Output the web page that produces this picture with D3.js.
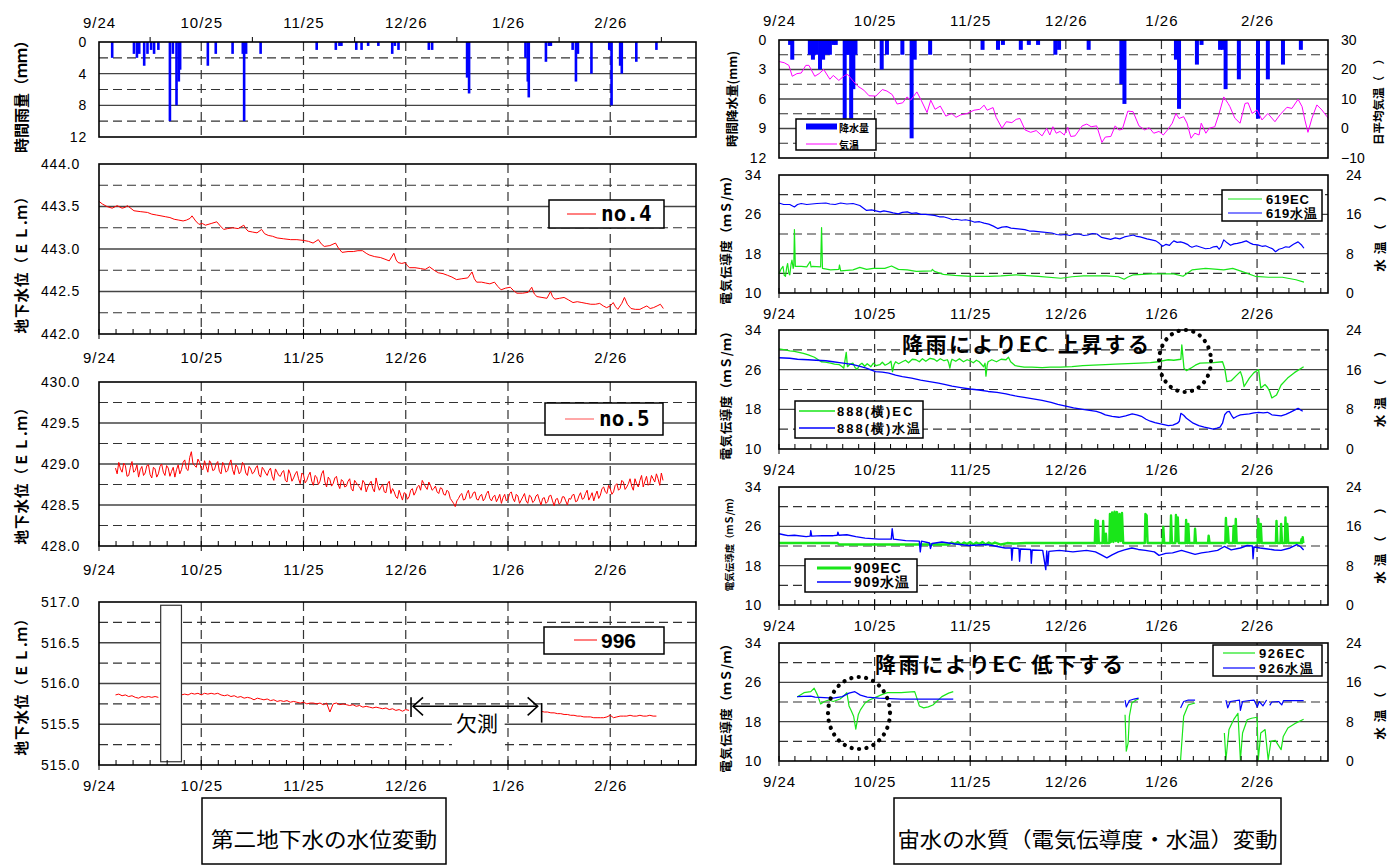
<!DOCTYPE html>
<html><head><meta charset="utf-8">
<script src="https://cdn.jsdelivr.net/npm/d3@7"></script>
<style>
body{margin:0;background:#fff;}
svg{display:block;}
</style></head><body>
<svg id="c" width="1400" height="865"></svg>
<script>
// ---------------- DATA ----------------
const DATE_TICKS = [0, 31, 62, 93, 124, 155];          // days after 9/24
const DATE_LABELS = ["9/24", "10/25", "11/25", "12/26", "1/26", "2/26"];

const RAIN_L_TICKS = [0, 4, 8, 12];
const RAIN_R_TICKS = [0, 3, 6, 9, 12];
const TEMP_AIR_TICKS = [30, 20, 10, 0, -10];
const EC_TICKS = [10, 18, 26, 34];
const WT_TICKS = [0, 8, 16, 24];
const NO4_TICKS = [442.0, 442.5, 443.0, 443.5, 444.0];
const NO5_TICKS = [428.0, 428.5, 429.0, 429.5, 430.0];
const S996_TICKS = [515.0, 515.5, 516.0, 516.5, 517.0];

// hourly rainfall (left) [day, mm]
const RAIN_L = [[4,2],[10.6,1.5],[11.5,2],[12.2,1.5],[13.7,3],[14.7,1.5],[15.8,1],[16.7,1.5],[18,1],[21.5,10],[22.4,1.5],[23.5,8],[24.2,5],[24.6,3.5],[33,3],[35.4,1.5],[40.5,1.5],[43.6,1.5],[44,10],[44.6,1.5],[49,1.5],[66,1],[71.8,1],[72.9,0.5],[73.5,0.5],[78,1],[79.6,1],[81.6,0.5],[84.7,0.5],[88.9,1.5],[89.7,0.5],[90.8,1],[100,1],[101,1],[111.6,4.5],[112.2,6.5],[129.3,2],[130,5],[130.3,7],[135.5,2.5],[136.4,0.5],[137,0.5],[143.6,1],[144.6,5],[145.2,1.5],[149.3,4],[154.7,1],[155.4,8],[158,3],[158.5,4],[162.9,2.5],[169,1]];

// hourly precipitation (right) [day, mm]
const RAIN_R = [[3.6,0.5],[4.3,2],[10,1.5],[11,2],[12,1.5],[13.3,3],[14.3,2],[15.5,1.5],[16.5,1.5],[17.6,0.5],[18.4,0.5],[21.3,8],[22,1.5],[22.6,1.5],[23.4,8],[24.1,5],[24.8,1.5],[33.3,3],[35,1.5],[40,1.5],[43,10],[44,2],[49,1.5],[66,1],[71,1],[72.6,0.5],[78.4,1],[81,0.5],[84,0.5],[89.6,1.5],[90.8,1],[100.4,1],[111,4.5],[112,6.5],[128.7,2],[129.7,7],[135.5,2.5],[137,0.5],[143,1],[144,1],[144.8,5],[149.1,4],[155.3,8],[158.5,4],[163.4,2.5],[169.2,1]];

// daily mean air temperature [day, degC]
const AIR_TEMP = [[0,22.7],[1.7,22.3],[3.2,21.4],[4.3,17.7],[5.8,18.6],[7.2,18.8],[8.7,21.4],[9.7,21.4],[11.6,17.7],[13,18.6],[14.5,20.0],[16.5,16.7],[17.6,18.0],[19.4,16.3],[21.3,18.0],[22.3,18.3],[24.1,16.0],[25.6,14.3],[27.5,13.0],[29.2,11.1],[31.4,11.0],[33.5,13.2],[35,12.7],[36.7,11.5],[38.3,8.3],[40.1,8.7],[41.5,10.7],[42.7,9.6],[44.7,12.4],[46.1,9.6],[48,5.4],[49.2,9.6],[50.6,6.5],[52.3,7.6],[54.1,4.2],[56,5.1],[57.4,3.8],[58.9,4.6],[61,5.1],[63.2,6.2],[65.1,6.5],[66.5,7.9],[67.5,6.2],[69.4,7.1],[70.4,3.8],[72.3,0.1],[73.7,2.3],[75.5,2.0],[76.9,3.1],[78.1,3.4],[79.8,-0.5],[81.6,-1.3],[83.4,-0.7],[85.3,-2.5],[86.8,0.1],[87.8,-2.2],[88.8,0.6],[89.9,-1.6],[91.1,-1.0],[92.5,-2.2],[93.6,0.4],[94.6,-2.7],[96,-2.5],[98.3,0.9],[99.8,1.5],[101.2,0.6],[103,0.9],[104.7,-4.7],[105.8,-2.9],[107.6,-2.7],[109,0.9],[110.2,-0.5],[111.3,-0.3],[113.1,5.9],[114.8,5.7],[116.7,0.9],[118.6,-0.5],[120,0.3],[121.5,-1.6],[123.2,-1.0],[124.6,-2.2],[126.1,-0.3],[127.5,1.8],[128.7,5.1],[129.7,3.4],[131.2,4.0],[132.3,1.8],[133.6,-3.3],[134.8,-1.6],[136.2,-2.2],[136.9,1.8],[138.4,-1.6],[139.5,0.1],[141.3,0.6],[142.7,5.1],[144.2,10.7],[145.6,8.5],[146.2,7.4],[147.8,3.5],[149.5,1.8],[151.1,8.5],[152.1,8.7],[153.4,5.1],[155,6.3],[156.6,2.9],[158.5,5.1],[160.8,2.3],[162.4,4.6],[164.7,7.2],[166.3,6.8],[168.3,9.9],[169.6,7.4],[170.5,2.9],[171.5,-1.3],[172.8,3.5],[174.4,8.0],[176,6.3],[177.7,4.0],[178,3.5]];

// groundwater level no.4 [day, EL.m]
const NO4 = [[0,443.56],[1,443.53],[2.4,443.50],[4,443.48],[5.5,443.51],[7,443.48],[7.9,443.49],[8.6,443.51],[10.6,443.45],[12.5,443.44],[14.7,443.43],[16,443.41],[17.4,443.40],[18.8,443.39],[20.1,443.38],[21.5,443.37],[22.8,443.35],[24.2,443.34],[25.5,443.33],[26.5,443.34],[27.6,443.36],[28.2,443.39],[29.3,443.33],[30.3,443.29],[31.3,443.30],[32.3,443.28],[34,443.30],[35.7,443.32],[36.8,443.27],[37.8,443.23],[39,443.24],[40.5,443.25],[42.2,443.24],[43.9,443.28],[44.5,443.24],[45.2,443.21],[46.5,443.20],[47.9,443.19],[49.3,443.23],[50.2,443.18],[51.3,443.16],[52.6,443.15],[54,443.13],[56,443.12],[58.1,443.11],[60,443.11],[62.2,443.10],[63.5,443.09],[64.9,443.07],[66.5,443.11],[67.4,443.06],[68.3,443.03],[70,443.04],[71.7,443.07],[72.6,443.01],[73.7,442.96],[75.5,442.97],[77.1,442.97],[78.5,442.98],[79.9,442.98],[81,442.95],[81.9,442.93],[83.6,442.91],[85.3,442.90],[86.7,442.88],[88,442.86],[89.4,442.95],[90.1,442.87],[90.7,442.84],[91.8,442.83],[92.8,442.84],[93.4,442.81],[94.1,442.78],[95.8,442.78],[97.5,442.77],[98.9,442.76],[100.2,442.79],[101.6,442.75],[102.9,442.72],[104.3,442.71],[105.7,442.69],[107,442.67],[108.4,442.64],[110,442.65],[111.8,442.66],[113.1,442.73],[113.8,442.65],[114.5,442.61],[116,442.61],[117.2,442.60],[118.5,442.59],[119.9,442.61],[120.9,442.56],[121.9,442.52],[123.3,442.54],[124.7,442.55],[125.7,442.51],[126.7,442.48],[128.4,442.48],[130.1,442.49],[131.2,442.55],[132,442.47],[132.8,442.44],[134.3,442.43],[135.8,442.42],[136.9,442.50],[137.5,442.44],[138.2,442.41],[139.6,442.42],[141,442.43],[142.4,442.40],[143.7,442.37],[145,442.38],[146.4,442.37],[147.7,442.36],[149.1,442.35],[150.5,442.35],[151.8,442.36],[152.9,442.33],[153.9,442.31],[155,442.33],[155.9,442.37],[156.6,442.32],[157.3,442.29],[158.5,442.36],[159.3,442.43],[160.2,442.35],[161.3,442.30],[162.6,442.29],[164,442.29],[165,442.31],[166.1,442.33],[167.1,442.30],[168.1,442.31],[169.2,442.33],[170.2,442.35],[171.1,442.30]];

// groundwater level no.5, readings at whole days from day 5
const NO5_START = 5;
const NO5 = [428.95,429.02,428.90,428.98,428.86,429.03,428.92,428.84,428.97,428.89,
428.99,428.83,428.94,428.88,429.00,428.86,428.95,428.91,428.84,428.99,
428.93,429.05,428.92,429.15,428.98,429.06,428.95,429.04,428.90,429.01,
428.93,429.03,428.88,428.98,428.92,429.05,428.87,428.96,428.91,428.99,
428.86,428.94,428.90,428.98,428.84,428.93,428.86,428.95,428.80,428.90,
428.85,428.92,428.78,428.88,428.83,428.91,428.76,428.87,428.80,428.90,
428.74,428.84,428.79,428.92,428.72,428.81,428.76,428.85,428.70,428.79,
428.73,428.82,428.67,428.77,428.72,428.80,428.66,428.76,428.70,428.83,
428.68,428.75,428.65,428.79,428.70,428.60,428.68,428.56,428.64,428.60,
428.70,428.66,428.74,428.80,428.72,428.78,428.68,428.73,428.64,428.70,
428.62,428.66,428.55,428.48,428.58,428.64,428.57,428.68,428.60,428.66,
428.56,428.63,428.58,428.67,428.55,428.62,428.58,428.52,428.63,428.57,
428.66,428.54,428.61,428.56,428.64,428.52,428.60,428.55,428.63,428.50,
428.59,428.54,428.62,428.49,428.58,428.53,428.60,428.50,428.57,428.63,
428.55,428.65,428.58,428.68,428.60,428.55,428.67,428.62,428.72,428.64,
428.70,428.66,428.76,428.70,428.78,428.72,428.82,428.68,428.76,428.80,
428.72,428.85,428.76,428.82,428.88,428.74,428.80];
// no.5 readings at half days from day 5.5
const NO5_MID_START = 5.5;
const NO5_MID = [428.88,428.94,429.01,428.85,428.96,428.90,428.99,428.93,428.86,428.98,
428.87,428.96,428.84,428.97,428.90,428.98,428.85,428.96,428.93,428.88,
429.02,428.94,429.08,429.00,428.96,429.02,428.93,428.97,429.04,428.92,
429.00,428.91,429.02,428.90,429.00,428.93,428.99,428.88,429.02,428.89,
428.97,428.88,428.95,428.87,428.96,428.89,428.92,428.85,428.94,428.86,
428.90,428.80,428.93,428.79,428.88,428.82,428.89,428.77,428.86,428.79,
428.86,428.75,428.88,428.78,428.84,428.73,428.83,428.75,428.81,428.72,
428.79,428.70,428.80,428.74,428.68,428.77,428.72,428.79,428.66,428.74,
428.72,428.66,428.76,428.64,428.66,428.58,428.62,428.65,428.57,428.68,
428.62,428.72,428.68,428.76,428.69,428.74,428.70,428.66,428.71,428.63,
428.68,428.58,428.52,428.55,428.62,428.56,428.64,428.58,428.65,428.57,
428.61,428.55,428.64,428.58,428.60,428.54,428.63,428.59,428.55,428.64,
428.58,428.63,428.52,428.60,428.55,428.62,428.53,428.61,428.56,428.58,
428.52,428.61,428.55,428.57,428.51,428.60,428.55,428.58,428.62,428.54,
428.61,428.57,428.64,428.56,428.65,428.62,428.58,428.70,428.66,428.74,
428.63,428.74,428.68,428.80,428.69,428.76,428.73,428.82,428.72,428.86,
428.79,428.74,428.86,428.78,428.82,428.89];

// groundwater level 996, daily values in three measured pieces
const S996_A_START = 5;
const S996_A = [515.86,515.87,515.85,515.86,515.84,515.85,515.83,515.82,515.84,515.83,515.84,515.83,515.84,515.83];
const S996_B_START = 25;
const S996_B = [515.86,515.87,515.86,515.88,515.87,515.88,515.86,515.88,515.87,515.88,
515.87,515.88,515.86,515.85,515.86,515.84,515.85,515.83,515.84,515.82,
515.83,515.82,515.80,515.82,515.81,515.80,515.81,515.79,515.80,515.78,
515.79,515.78,515.79,515.77,515.78,515.77,515.76,515.77,515.75,515.76,
515.76,515.75,515.76,515.74,515.76,515.65,515.75,515.76,515.74,515.75,
515.74,515.73,515.74,515.72,515.73,515.71,515.72,515.71,515.70,515.71,
515.70,515.69,515.70,515.68,515.69,515.67,515.68,515.66,515.68,515.67];
const S996_C_START = 134;
const S996_C = [515.66,515.65,515.65,515.64,515.64,515.63,515.63,515.62,515.62,515.61,515.61,515.60,515.60,515.59,515.59,515.59,515.58,515.58,515.58,515.58,515.59,515.61,515.58,515.59,515.60,515.60,515.60,515.61,515.60,515.60,515.61,515.60,515.60,515.61,515.60,515.60];

// 619: EC [day, mS/m], water temp [day, degC]
const EC619 = [[0,13.9],[0.6,14.8],[1.3,15.4],[1.7,13.6],[2.1,13.4],[2.5,15.2],[2.8,16.0],[3.2,14.0],[3.5,13.7],[3.9,15.8],[4.2,16.7],[4.6,15.0],[4.8,15.5],[5.0,22.9],[5.3,15.4],[7.2,15.4],[9,15.3],[10.1,16.4],[10.4,15.3],[10.8,15.4],[13.5,15.3],[13.8,23.3],[14.1,15.0],[16.7,14.7],[19.4,14.8],[19.6,15.7],[20.0,14.5],[24,14.7],[26.2,15.2],[28.4,14.8],[30.6,15.0],[34.3,15.0],[36.5,15.5],[38.7,14.8],[41.6,14.7],[44.5,14.4],[49.5,14.5],[49.7,14.8],[50.4,14.4],[53.3,13.8],[57,13.6],[62.1,13.4],[68,13.4],[72,13.5],[76.8,13.7],[84.1,13.4],[91.4,13.0],[95,13.3],[98.7,13.5],[106.1,13.5],[110,13.3],[111.9,12.8],[113,13.2],[114.9,13.7],[120.7,13.9],[128,13.9],[131,13.4],[133.9,14.7],[138.3,15.0],[144.2,14.7],[147.1,15.0],[150,14.4],[154.4,13.4],[158.8,13.2],[163.2,13.2],[167.6,12.7],[170.2,12.2]];
const WT619 = [[0,18.3],[1.5,18.0],[3.5,18.0],[5,17.5],[6,18.0],[7.2,18.2],[9,18.0],[12.3,18.2],[15.2,18.3],[16.5,18.1],[18.2,18.0],[20,18.3],[22,18.1],[24,18.2],[26.2,17.8],[28.4,16.8],[30,16.9],[31.4,16.7],[32.8,16.5],[34,16.7],[35.7,16.5],[37,16.3],[38.7,16.1],[40,16.4],[41.6,16.5],[43,16.2],[44.5,16.3],[46,16.0],[47.5,16.0],[49,15.9],[50.4,15.8],[52,15.5],[53.3,15.5],[55,15.2],[56.3,14.9],[57.5,15.0],[59.2,14.8],[60.5,14.9],[62.1,14.7],[63.5,14.4],[65,14.5],[66.5,14.2],[68,14.0],[69.5,13.6],[70.9,13.1],[72.3,13.4],[73.8,13.5],[75.2,13.2],[76.8,13.1],[78.3,13.0],[79.7,12.9],[81.2,12.6],[82.6,12.6],[84,12.5],[85.6,12.4],[87,12.3],[88.5,12.2],[90,11.9],[91.4,11.8],[92.8,11.9],[94.3,11.7],[95.8,12.0],[97.3,12.0],[98.8,11.7],[100.2,11.8],[101.6,12.1],[103.1,12.0],[104.6,11.3],[106,11.1],[107.5,10.9],[109,11.2],[110.5,11.0],[112,11.4],[113.4,11.6],[114.9,11.8],[116,11.5],[117.1,11.4],[118.2,11.2],[119.3,11.0],[120.8,10.8],[122.2,10.6],[123.3,10.1],[124.4,9.5],[125.5,9.9],[126.6,9.7],[127.3,10.2],[128,10.6],[129.1,10.3],[130.2,10.4],[131.3,10.2],[132.4,9.9],[133.2,9.5],[133.9,9.3],[135.3,9.6],[136.8,9.3],[138.3,9.0],[139.8,9.1],[140.9,9.4],[142,9.5],[142.7,8.9],[143.4,9.5],[144.2,10.8],[145.3,10.2],[146.4,9.7],[147.5,10.0],[148.6,10.1],[150,10.3],[151.5,10.6],[152.6,10.2],[153.7,9.9],[155.2,9.8],[156.6,9.5],[157.7,9.6],[158.8,9.3],[160,9.0],[161,8.4],[162.1,8.9],[163.2,9.1],[164.3,9.4],[165.4,9.3],[166.8,9.9],[168.3,10.4],[169.5,9.7],[170.2,9.1]];

// 888(横): EC and water temp
const EC888 = [[0,30.2],[2,30.0],[3.5,29.8],[5,29.7],[7.9,29.3],[9.5,29.0],[11.5,28.5],[13.7,27.6],[15,27.5],[16.7,27.3],[18,27.1],[19.6,27.0],[20.5,26.6],[21,26.3],[21.8,29.5],[22.2,26.6],[23,27.1],[24,27.3],[24.7,26.4],[25.4,26.1],[26.2,27.0],[26.9,27.3],[27.8,26.7],[28.6,27.2],[29.8,26.6],[30.6,27.3],[31.5,26.8],[32.7,27.0],[33.5,27.5],[34.4,26.9],[35.6,27.3],[36.3,27.7],[36.8,25.6],[37.3,27.0],[37.8,27.6],[38.8,27.2],[40,27.6],[41,27.9],[42,27.4],[43.2,28.1],[44.4,28.0],[45.5,27.6],[46.5,28.2],[47.6,27.7],[49,28.3],[50.3,28.1],[51.2,27.7],[52.3,28.2],[53.5,27.8],[54.6,28.0],[55,27.4],[55.4,26.3],[55.8,27.6],[56.1,28.1],[57.3,27.7],[58.5,28.2],[59.8,27.6],[61,28.0],[61.9,27.8],[63,27.4],[64,27.9],[64.9,27.6],[65.5,27.2],[66.3,26.6],[66.8,27.3],[67.1,24.7],[67.5,26.9],[67.8,27.6],[69,28.0],[70.5,27.6],[72,28.1],[73.6,28.0],[74.4,28.5],[75.1,27.6],[76.6,26.8],[79.5,26.5],[82,26.5],[85.3,26.4],[88,26.5],[91.2,26.5],[95,26.6],[98.5,26.8],[102,26.9],[105.8,27.0],[109,27.1],[113.1,27.2],[117,27.3],[120.4,27.4],[123,27.6],[126.2,28.0],[128,27.9],[130.3,28.1],[130.6,31.0],[131.3,26.3],[132.1,25.8],[133.5,26.3],[135,26.9],[136.5,27.3],[140.8,27.4],[143.8,27.6],[144.5,26.3],[145.2,23.6],[146.7,23.8],[148.1,24.7],[149.6,25.6],[150.2,24.5],[150.8,22.6],[152.5,24.3],[154,25.4],[155.5,26.0],[156.2,22.3],[157.6,23.0],[158.4,22.4],[159.1,21.6],[159.8,20.3],[161.3,20.9],[162.8,22.9],[164.9,24.3],[167.1,25.4],[170.1,26.6]];
const WT888 = [[0,18.4],[3.5,18.3],[6,18.1],[9.4,18.0],[12,17.9],[15.2,17.8],[17.5,17.6],[19.6,17.4],[22,17.2],[24,17.0],[26,16.7],[28.3,16.3],[30,15.9],[31.3,15.6],[33.5,15.5],[35.6,15.3],[37.8,14.9],[40,14.6],[43,14.3],[45.9,13.9],[48.8,13.6],[51.7,13.3],[54,13.0],[56.1,12.7],[59,12.4],[61.9,12.1],[64.8,11.9],[67.8,11.6],[70.7,11.4],[73.6,11.1],[75,10.9],[76.6,10.7],[79.5,10.4],[82.4,10.1],[85.3,9.8],[88.2,9.4],[90.4,9.0],[92.6,8.7],[95.5,8.3],[98.5,8.0],[100.7,7.8],[102.9,7.6],[104.4,7.3],[105.8,6.9],[108,6.6],[110.2,6.4],[112.4,6.7],[114.5,7.1],[116,6.9],[117.5,6.6],[119,6.0],[120.4,5.6],[121.9,5.3],[123.3,5.1],[124.8,4.9],[126.2,4.7],[127.7,4.8],[129.2,5.2],[129.8,5.6],[130.3,7.2],[131.2,6.8],[132.1,6.2],[133.2,5.7],[134.3,5.2],[136.1,4.7],[137.9,4.4],[139.4,4.2],[140.8,4.0],[142,4.2],[143,4.4],[143.8,5.2],[144.5,6.9],[145.3,7.5],[146,7.6],[146.7,6.8],[147.4,6.2],[148.5,6.6],[149.6,6.9],[151,7.0],[152.5,7.1],[154,7.3],[155.5,7.4],[157,7.3],[158.4,7.4],[159.8,6.9],[161.3,6.8],[162.8,6.7],[164.3,7.0],[165.7,7.4],[167,7.8],[168.3,8.2],[169.8,7.6]];

// 909: EC and water temp
const EC909 = [[0,22.6],[19,22.6],[19.5,22.3],[30,22.3],[40,22.3],[55,22.3],[56,22.7],[57,22.4],[58,22.8],[59,22.3],[60,22.7],[61,22.4],[62,22.8],[63,22.3],[64,22.7],[65,22.4],[66,22.8],[67,22.3],[68,22.7],[69,22.4],[70,22.7],[72,22.3],[74,22.6],[76,22.5],[80,22.6],[102.4,22.6],[102.6,27.3],[102.9,22.6],[103.2,22.6],[103.4,27.1],[103.7,22.6],[104.9,22.6],[105.1,27.1],[105.4,22.6],[105.8,22.6],[106,24.5],[106.2,22.6],[107.1,22.6],[107.3,28.5],[107.6,22.8],[108.0,28.8],[108.4,22.8],[108.8,29.0],[109.2,23.0],[109.6,28.9],[110,22.8],[110.4,28.5],[110.8,23.0],[111.2,28.7],[111.6,22.6],[118.6,22.6],[118.8,28.5],[119.2,28.2],[119.5,22.6],[124.4,22.6],[124.6,25.9],[124.9,22.6],[126.9,22.6],[127.1,28.2],[127.4,22.6],[128.5,22.6],[128.7,28.3],[129,23.0],[129.3,27.8],[129.6,22.6],[131.8,22.6],[132,27.3],[132.3,22.6],[132.5,22.6],[132.7,26.5],[133,22.6],[134.7,22.6],[134.9,25.5],[135.2,22.6],[139.1,22.6],[139.3,24.1],[139.6,22.6],[144.7,22.6],[144.9,27.7],[145.2,22.8],[145.5,25.8],[145.8,22.6],[147.2,22.6],[147.4,26.1],[147.7,22.6],[147.9,22.6],[148.1,27.5],[148.4,22.6],[155.2,22.6],[155.4,27.5],[155.8,22.6],[156.2,26.5],[156.5,22.6],[161.1,22.6],[161.3,27.1],[161.6,22.6],[162.6,22.6],[162.8,26.5],[163.1,22.6],[164,22.6],[164.2,27.8],[164.5,22.6],[164.8,26.5],[165.1,22.6],[169.2,22.6],[169.4,23.4],[169.6,22.6],[169.8,23.8],[170,22.6]];
const WT909 = [[0,14.5],[1.5,14.3],[2.9,14.1],[5,14.2],[8.8,13.9],[10.1,14.0],[10.3,15.1],[10.6,14.0],[14,14.1],[17.6,14.1],[18.9,14.2],[19.1,14.8],[19.4,14.2],[22,14.3],[24.9,13.9],[27.9,13.6],[32.3,13.4],[36.4,13.4],[36.7,15.5],[37.1,13.4],[41.1,13.1],[45.5,13.0],[45.8,10.8],[46.2,13.0],[48.8,12.6],[49.1,11.5],[49.6,12.5],[52.8,12.8],[57.2,12.4],[61.6,12.1],[67.5,12.3],[73.3,11.6],[75.3,11.6],[75.5,9.1],[75.8,11.6],[77.8,11.5],[78.0,8.9],[78.3,11.4],[81.6,11.3],[81.8,8.5],[82.1,11.2],[85.5,11.1],[86.5,7.2],[86.8,11.0],[87.2,8.1],[87.5,10.9],[90.9,11.1],[95.3,10.8],[99.7,11.1],[102.6,10.8],[104.5,10.2],[106.3,9.6],[108,10.2],[110,10.8],[112,11.2],[114.4,11.6],[116.5,11.3],[118.8,11.1],[121.7,10.8],[123.2,10.1],[125.4,10.5],[127.6,10.6],[130.5,11.1],[132.7,10.7],[134.9,10.3],[137,10.6],[139.3,10.8],[142.2,11.1],[144.4,11.9],[146.6,11.2],[149.6,11.6],[151.8,12.1],[153.5,12.0],[153.7,9.4],[154,11.8],[156,11.6],[158.4,11.4],[160.6,11.2],[162.8,11.1],[165.7,11.6],[167.9,12.3],[169.2,11.8],[170.1,11.2]];

// 926: EC and water temp (null = no data)
const EC926 = [[5.9,23.0],[8.1,23.9],[10.3,24.1],[11.4,24.8],[12.5,23.4],[13.5,21.6],[14.7,22.1],[16.1,22.4],[17.6,22.1],[19.8,22.6],[20.8,23.1],[22.0,23.9],[22.7,21.2],[23.5,20.1],[24.2,19.1],[24.9,16.5],[25.7,19.4],[26.4,20.4],[27.9,21.8],[29.3,22.4],[31.5,23.0],[33.7,23.6],[35.2,23.9],[39.6,23.9],[44.0,24.1],[44.7,22.8],[45.5,21.2],[46.9,20.8],[48.4,21.0],[49.9,21.4],[52.8,23.1],[55.0,23.8],[56.5,24.1],null,
[112.2,19.4],[112.6,12.0],[113.2,13.7],[113.6,19.1],[114.4,21.8],[115.8,22.4],[116.6,22.6],null,
[130.2,10.2],[131.2,19.1],[132.7,21.4],[134.9,21.8],null,
[144.4,15.7],[144.9,10.2],[145.9,16.4],[147.4,18.4],[148.8,19.7],[149.6,10.2],[150.3,15.7],[151.8,18.4],[153.2,18.7],[155.0,18.9],[155.4,10.2],[156.2,15.7],[157.6,16.4],[158.6,10.2],[159.5,14.0],[160.9,14.2],[162.8,12.3],[163.5,15.0],[165.0,16.7],[167.2,17.6],[170.1,18.5]];
const WT926 = [[5.9,13.1],[10.3,13.2],[11.7,13.0],[17.6,12.8],[20.5,13.1],[22.7,13.8],[24.6,14.1],[26.4,13.4],[28.6,13.0],[32.3,12.8],[39.6,12.6],[56.5,12.6],null,
[112.2,12.4],[112.6,11.0],[113.6,12.3],[115.1,12.6],[116.6,12.8],null,
[130.2,10.8],[131.2,12.1],[132.7,12.4],[134.9,12.4],null,
[144.9,12.4],[145.5,10.8],[146.3,12.1],[149.3,12.4],[149.6,10.3],[150.3,12.1],[152.5,12.3],[154.0,12.4],[155.1,11.0],[155.7,12.1],[156.9,11.2],[158.1,12.4],null,
[159.1,11.3],[159.8,12.0],[162,12.1],[163,11.4],[163.6,12.3],[170.1,12.3]];

// ---------------- DRAWING ----------------
const svg = d3.select('#c');
const LAT = '"Liberation Sans", Arial, sans-serif';
const JP = '"Noto Sans CJK JP", "Noto Sans CJK SC", sans-serif';
const RED = '#ff0000', BLUE = '#0000ff', GREEN = '#19e619', MAG = '#ff00ff';

const xL = d3.scaleLinear().domain([0, 181]).range([99, 696]);
const xR = d3.scaleLinear().domain([0, 178]).range([779, 1328]);

function base(xs, ys, solid, dashed) {
  const [x0, x1] = xs.range();
  const yt = d3.min(ys.range()), yb = d3.max(ys.range());
  const g = svg.append('g');
  g.append('rect').attr('x', x0).attr('y', yt).attr('width', x1 - x0).attr('height', yb - yt).attr('fill', '#fff');
  g.selectAll(null).data(solid).join('line')
    .attr('x1', x0).attr('x2', x1).attr('y1', d => ys(d)).attr('y2', d => ys(d))
    .attr('stroke', '#444').attr('stroke-width', 1.3);
  g.selectAll(null).data(dashed).join('line')
    .attr('x1', x0).attr('x2', x1).attr('y1', d => ys(d)).attr('y2', d => ys(d))
    .attr('stroke', '#333').attr('stroke-width', 1.2).attr('stroke-dasharray', '9,5');
  g.selectAll(null).data(DATE_TICKS.slice(1)).join('line')
    .attr('x1', d => xs(d)).attr('x2', d => xs(d)).attr('y1', yt).attr('y2', yb)
    .attr('stroke', '#333').attr('stroke-width', 1.2).attr('stroke-dasharray', '9,5');
}

function frame(xs, ys, opt) {
  const [x0, x1] = xs.range();
  const yt = d3.min(ys.range()), yb = d3.max(ys.range());
  const g = svg.append('g');
  g.append('rect').attr('x', x0).attr('y', yt).attr('width', x1 - x0).attr('height', yb - yt)
    .attr('fill', 'none').attr('stroke', '#000').attr('stroke-width', 1.6);
  const minor = d3.range(0, xs.domain()[1], 31 / 6);
  if (opt.bottomTicks) {
    g.selectAll(null).data(minor).join('line')
      .attr('x1', d => xs(d)).attr('x2', d => xs(d)).attr('y1', yb).attr('y2', yb - 5)
      .attr('stroke', '#000').attr('stroke-width', 1);
    g.selectAll(null).data(DATE_TICKS).join('line')
      .attr('x1', d => xs(d)).attr('x2', d => xs(d)).attr('y1', yb).attr('y2', yb + 5)
      .attr('stroke', '#000').attr('stroke-width', 1);
  }
  if (opt.topTicks) {
    g.selectAll(null).data(DATE_TICKS.map(d => d + 15.5)).join('line')
      .attr('x1', d => xs(d)).attr('x2', d => xs(d)).attr('y1', yt).attr('y2', yt - 5)
      .attr('stroke', '#000').attr('stroke-width', 1);
  }
  const top = opt.dateTop;
  const ax = (top ? d3.axisTop(xs) : d3.axisBottom(xs))
    .tickValues(DATE_TICKS).tickFormat((d, i) => DATE_LABELS[i]).tickSize(0)
    .tickPadding(top ? 14 : opt.datePad || 16);
  const ga = svg.append('g').attr('transform', `translate(0,${top ? yt : yb})`).call(ax);
  ga.select('.domain').remove();
  ga.selectAll('text').attr('font-family', LAT).attr('font-size', 15).attr('fill', '#000')
    .style('letter-spacing', '1px');
}

function yAxis(ys, x, ticks, fmt, side, pad) {
  const ax = (side === 'left' ? d3.axisLeft(ys) : d3.axisRight(ys))
    .tickValues(ticks).tickFormat(fmt).tickSize(0).tickPadding(pad);
  const g = svg.append('g').attr('transform', `translate(${x},0)`).call(ax);
  g.select('.domain').remove();
  g.selectAll('text').attr('font-family', LAT).attr('font-size', 14).attr('fill', '#000')
    .style('letter-spacing', side === 'left' ? '0.8px' : '0px');
}

function vtitle(x, y, txt, size, spacing) {
  svg.append('text').attr('transform', `translate(${x},${y}) rotate(-90)`)
    .attr('text-anchor', 'middle').attr('dominant-baseline', 'central')
    .attr('font-family', JP).attr('font-weight', 700).attr('font-size', size)
    .style('letter-spacing', (spacing || 0) + 'px').text(txt);
}

function lineOf(xs, ys) {
  return d3.line().defined(d => d != null).x(d => xs(d[0])).y(d => ys(d[1]));
}
function series(xs, ys, data, color, w) {
  svg.append('path').datum(data).attr('d', lineOf(xs, ys))
    .attr('fill', 'none').attr('stroke', color).attr('stroke-width', w || 1).attr('stroke-linejoin', 'round');
}
function daily(start, vals) { return vals.map((v, i) => [start + i, v]); }

function legendBox(x, y, w, h) {
  svg.append('rect').attr('x', x).attr('y', y).attr('width', w).attr('height', h)
    .attr('fill', '#fff').attr('stroke', '#000').attr('stroke-width', 1.5);
}
function legendItem(x1, x2, y, color, w, txt, tx, size, font, spacing) {
  svg.append('line').attr('x1', x1).attr('x2', x2).attr('y1', y).attr('y2', y)
    .attr('stroke', color).attr('stroke-width', w);
  svg.append('text').attr('x', tx).attr('y', y).attr('dominant-baseline', 'central')
    .attr('font-family', font).attr('font-weight', 700).attr('font-size', size)
    .style('letter-spacing', (spacing || 0) + 'px').text(txt);
}

// ===== LEFT COLUMN =====
const yRainL = d3.scaleLinear().domain([0, 12]).range([42, 137]);
base(xL, yRainL, [4, 8], [2, 6, 10]);
svg.append('g').selectAll('rect').data(RAIN_L).join('rect')
  .attr('x', d => xL(d[0]) - 1.3).attr('width', 2.6)
  .attr('y', yRainL(0)).attr('height', d => yRainL(d[1]) - yRainL(0)).attr('fill', BLUE);
frame(xL, yRainL, { dateTop: true, topTicks: true });
yAxis(yRainL, 99, RAIN_L_TICKS, d3.format('d'), 'left', 12);
vtitle(20, 93, '時間雨量（ｍｍ）', 15, 0);

// no.4
const yNo4 = d3.scaleLinear().domain([442, 444]).range([334, 164]);
base(xL, yNo4, [442.5, 443.0, 443.5], [442.25, 442.75, 443.25, 443.75]);
series(xL, yNo4, NO4, RED, 1);
frame(xL, yNo4, { bottomTicks: true, datePad: 18 });
yAxis(yNo4, 99, NO4_TICKS, d3.format('.1f'), 'left', 19);
vtitle(20, 261, '地下水位（ＥＬ.ｍ）', 14.5, 1);
legendBox(549, 200, 115, 28);
legendItem(567, 596, 214, RED, 1, 'no.4', 601, 21, '"DejaVu Sans Mono", monospace', 0);

// no.5
const yNo5 = d3.scaleLinear().domain([428, 430]).range([546, 382]);
base(xL, yNo5, [428.5, 429.0, 429.5], [428.25, 428.75, 429.25, 429.75]);
const no5All = daily(NO5_START, NO5).concat(daily(NO5_MID_START, NO5_MID)).sort((a, b) => a[0] - b[0]);
series(xL, yNo5, no5All, RED, 1);
frame(xL, yNo5, { bottomTicks: true, datePad: 18 });
yAxis(yNo5, 99, NO5_TICKS, d3.format('.1f'), 'left', 19);
vtitle(20, 472, '地下水位（ＥＬ.ｍ）', 14.5, 1);
legendBox(545, 403, 118, 32);
legendItem(565, 594, 419, '#ff5050', 1, 'no.5', 599, 21, '"DejaVu Sans Mono", monospace', 0);

// 996
const y996 = d3.scaleLinear().domain([515, 517]).range([765, 602]);
base(xL, y996, [515.5, 516.0, 516.5], [515.25, 515.75, 516.25, 516.75]);
series(xL, y996, daily(S996_A_START, S996_A), RED, 1);
series(xL, y996, daily(S996_B_START, S996_B), RED, 1);
series(xL, y996, daily(S996_C_START, S996_C), RED, 1);
svg.append('rect').attr('x', xL(18.7)).attr('width', xL(25) - xL(18.7))
  .attr('y', y996(516.96)).attr('height', y996(515.04) - y996(516.96))
  .attr('fill', '#fff').attr('stroke', '#333').attr('stroke-width', 1.2);
const gapA = 94.6, gapB = 134.2, gapV = 515.72;
svg.append('rect').attr('x', xL(107)).attr('width', xL(123) - xL(107))
  .attr('y', y996(515.62)).attr('height', y996(515.18) - y996(515.62)).attr('fill', '#fff');
const ga = svg.append('g').attr('stroke', '#000').attr('stroke-width', 1.6).attr('fill', 'none');
ga.append('line').attr('x1', xL(gapA)).attr('x2', xL(gapA)).attr('y1', y996(515.83)).attr('y2', y996(515.59));
ga.append('line').attr('x1', xL(gapB)).attr('x2', xL(gapB)).attr('y1', y996(515.76)).attr('y2', y996(515.52));
ga.append('line').attr('x1', xL(gapA) + 2).attr('x2', xL(gapB) - 4).attr('y1', y996(gapV)).attr('y2', y996(gapV));
ga.append('path').attr('d', `M${xL(gapA) + 12},${y996(gapV) - 9} L${xL(gapA) + 2},${y996(gapV)} L${xL(gapA) + 12},${y996(gapV) + 9}`);
ga.append('path').attr('d', `M${xL(gapB) - 14},${y996(gapV) - 9} L${xL(gapB) - 4},${y996(gapV)} L${xL(gapB) - 14},${y996(gapV) + 9}`);
svg.append('text').attr('x', xL(114.6)).attr('y', y996(515.53)).attr('text-anchor', 'middle')
  .attr('dominant-baseline', 'central').attr('font-family', JP).attr('font-size', 21).text('欠測');
frame(xL, y996, { bottomTicks: true, datePad: 15 });
yAxis(y996, 99, S996_TICKS, d3.format('.1f'), 'left', 19);
vtitle(20, 683, '地下水位（ＥＬ.ｍ）', 14.5, 1);
legendBox(544, 627, 120, 27);
legendItem(574, 597, 640, RED, 1, '996', 601, 21, LAT, 0);

// ===== RIGHT COLUMN =====
const yRainR = d3.scaleLinear().domain([0, 12]).range([40, 158]);
const yAir = d3.scaleLinear().domain([-10, 30]).range([158, 40]);
base(xR, yRainR, [3, 6, 9], [1.5, 4.5, 7.5, 10.5]);
svg.append('g').selectAll('rect').data(RAIN_R).join('rect')
  .attr('x', d => xR(d[0]) - 2).attr('width', 4)
  .attr('y', yRainR(0)).attr('height', d => yRainR(d[1]) - yRainR(0)).attr('fill', BLUE);
series(xR, yAir, AIR_TEMP, MAG, 1);
frame(xR, yRainR, { dateTop: true });
yAxis(yRainR, 779, RAIN_R_TICKS, d3.format('d'), 'left', 12);
yAxis(yAir, 1328, TEMP_AIR_TICKS, d3.format('d'), 'right', 13);
vtitle(731, 99, '時間降水量(mm)', 12.5, 0);
vtitle(1378, 99, '日平均気温（　）', 11.5, 0);
legendBox(796, 119, 80, 31);
svg.append('rect').attr('x', 806).attr('y', 123.5).attr('width', 31).attr('height', 6).attr('fill', BLUE);
svg.append('text').attr('x', 839).attr('y', 127).attr('dominant-baseline', 'central')
  .attr('font-family', JP).attr('font-weight', 700).attr('font-size', 10).text('降水量');
legendItem(806, 837, 144, MAG, 1, '気温', 839, 10, JP, 0);

function ecPanel(y0, y1, ec, wt, ecW, wtW) {
  const yEC = d3.scaleLinear().domain([10, 34]).range([y1, y0]);
  const yWT = d3.scaleLinear().domain([0, 24]).range([y1, y0]);
  base(xR, yEC, [18, 26], [14, 22, 30]);
  series(xR, yEC, ec, GREEN, ecW);
  series(xR, yWT, wt, BLUE, wtW);
  return { yEC, yWT };
}
function ecAxes(p, y0, y1, small) {
  frame(xR, p.yEC, { bottomTicks: true, datePad: 15 });
  yAxis(p.yEC, 779, EC_TICKS, d3.format('d'), 'left', 17);
  yAxis(p.yWT, 1328, WT_TICKS, d3.format('d'), 'right', 18);
  const cy = (y0 + y1) / 2;
  if (small) vtitle(729, cy - 4, '電気伝導度（ｍＳ/ｍ）', 9.5, 0);
  else vtitle(725, cy + 3, '電気伝導度（ｍＳ/ｍ）', 12.5, 0.5);
  vtitle(1379, cy - 6, '水温（　）', 12.5, 5);
}
function ellipse(cx, cy, rx, ry) {
  svg.append('ellipse').attr('cx', cx).attr('cy', cy).attr('rx', rx).attr('ry', ry)
    .attr('fill', 'none').attr('stroke', '#000').attr('stroke-width', 4.2)
    .attr('stroke-linecap', 'round').attr('stroke-dasharray', '0.1,7.4');
}
function note(x, y, len, txt) {
  svg.append('text').attr('x', x).attr('y', y).attr('dominant-baseline', 'central')
    .attr('font-family', JP).attr('font-weight', 700).attr('font-size', 21)
    .attr('textLength', len).attr('lengthAdjust', 'spacing').text(txt);
}

// 619
const p619 = ecPanel(175, 293, EC619, WT619, 1.2, 1.2);
ecAxes(p619, 175, 293);
legendBox(1222, 190, 100, 31);
legendItem(1228, 1262, 199, GREEN, 1.2, '619EC', 1266, 13, LAT, 0.8);
legendItem(1228, 1262, 213, BLUE, 1.2, '619水温', 1266, 13, LAT, 0.8);

// 888
const p888 = ecPanel(330, 449, EC888, WT888, 1.3, 1.3);
note(902, 343, 247, '降雨によりEC 上昇する');
ellipse(1185, 361, 26, 31);
ecAxes(p888, 330, 449);
legendBox(795, 401, 128, 37);
legendItem(799, 835, 411, GREEN, 1.3, '888(横)EC', 837, 13, LAT, 2);
legendItem(799, 835, 428, BLUE, 1.3, '888(横)水温', 837, 13, LAT, 2);

// 909
const p909 = ecPanel(487, 605, EC909, WT909, 2.4, 1.4);
ecAxes(p909, 487, 605, true);
legendBox(805, 559, 112, 33);
legendItem(817, 851, 568, GREEN, 3, '909EC', 854, 14, LAT, 1);
legendItem(817, 851, 582, BLUE, 1.3, '909水温', 854, 14, LAT, 1);

// 926
const p926 = ecPanel(643, 761, EC926, WT926, 1.2, 1.2);
note(875, 663, 248, '降雨によりEC 低下する');
ellipse(859, 713, 31, 36);
ecAxes(p926, 643, 761);
legendBox(1213, 645, 109, 31);
legendItem(1223, 1255, 653, GREEN, 1.2, '926EC', 1259, 13, LAT, 1.5);
legendItem(1223, 1255, 668, BLUE, 1.2, '926水温', 1259, 13, LAT, 1.5);

// ===== bottom title boxes =====
function titleBox(x, w, txt, len) {
  svg.append('rect').attr('x', x).attr('y', 798).attr('width', w).attr('height', 66)
    .attr('fill', '#fff').attr('stroke', '#000').attr('stroke-width', 1.5);
  svg.append('text').attr('x', x + w / 2).attr('y', 838).attr('text-anchor', 'middle')
    .attr('dominant-baseline', 'central').attr('font-family', JP).attr('font-size', 21)
    .attr('textLength', len).attr('lengthAdjust', 'spacingAndGlyphs').text(txt);
}
titleBox(202, 244, '第二地下水の水位変動', 226);
titleBox(894, 387, '宙水の水質（電気伝導度・水温）変動', 380);
</script>
</body></html>
